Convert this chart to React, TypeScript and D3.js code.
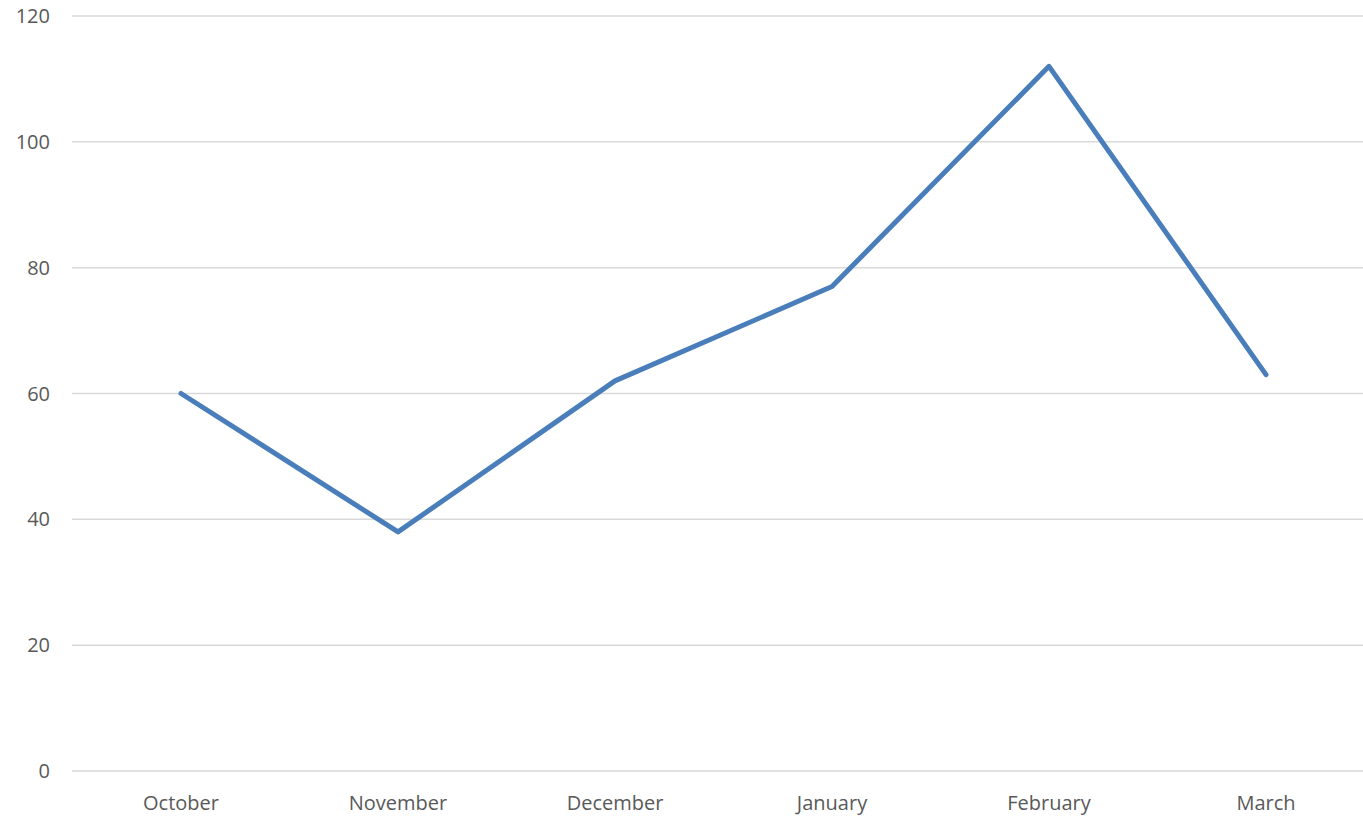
import * as d3 from 'd3';
import React from "react";

const months = ["October", "November", "December", "January", "February", "March"];
const values = [60, 38, 62, 77, 112, 63];
const yTicks = [0, 20, 40, 60, 80, 100, 120];

const svgWidth = 1363;
const svgHeight = 816;

const App = () => {
  const xScale = d3.scaleBand().domain(months).range([72.5, 1374.5]);
  const yScale = d3.scaleLinear().domain([0, 120]).range([771, 16]);

  const line = d3.line<number>()
    .x((d, i) => (xScale(months[i]) as number) + xScale.bandwidth() / 2)
    .y(d => yScale(d));

  const font = "'Open Sans', sans-serif";

  return (
    <svg width={svgWidth} height={svgHeight}
      style={{ position: 'absolute', top: 0, left: 0, background: '#fff' }}>
      <g>
        {yTicks.map(t => (
          <g key={t}>
            <line x1={72} x2={svgWidth} y1={yScale(t)} y2={yScale(t)}
              stroke="#d9d9d9" strokeWidth={1.5} />
            <text x={50} y={yScale(t)} dy="0.35em" textAnchor="end"
              fontFamily={font} fontSize={20} fill="#595959">{t}</text>
          </g>
        ))}
      </g>
      <g>
        {months.map(m => (
          <text key={m} x={(xScale(m) as number) + xScale.bandwidth() / 2} y={803}
            dy="0.35em" textAnchor="middle" fontFamily={font} fontSize={20} fill="#595959">{m}</text>
        ))}
      </g>
      <path d={line(values) || ""} fill="none" stroke="#4a7ebb" strokeWidth={5}
        strokeLinejoin="round" strokeLinecap="round" />
    </svg>
  );
};

export default App;
